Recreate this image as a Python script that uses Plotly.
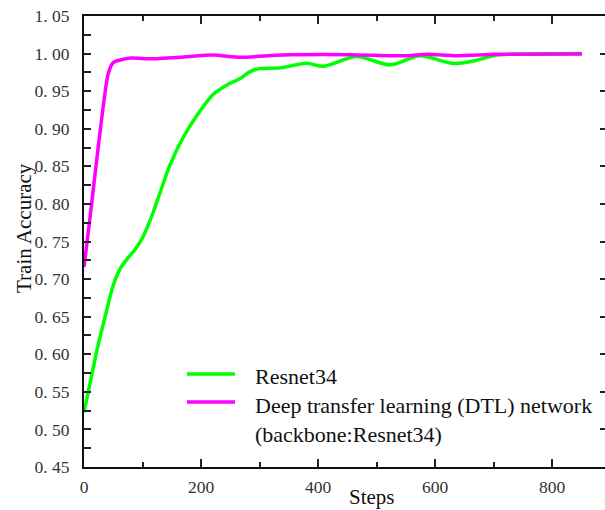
import plotly.graph_objects as go

# ---- data ----
steps_resnet = [0, 10, 22, 39, 50, 62, 75, 87, 100, 112, 126, 147, 170, 195, 221, 244, 267, 284, 300, 335, 381, 409, 466, 523, 574, 630, 665, 706, 760, 851]
acc_resnet = [0.523, 0.56, 0.605, 0.659, 0.692, 0.714, 0.728, 0.739, 0.755, 0.776, 0.806, 0.852, 0.889, 0.920, 0.946, 0.958, 0.967, 0.976, 0.980, 0.981, 0.987, 0.983, 0.996, 0.985, 0.997, 0.987, 0.990, 0.998, 0.9995, 1.0]

steps_dtl = [0, 10, 27, 41, 50, 79, 113, 164, 221, 267, 340, 455, 552, 586, 637, 706, 851]
acc_dtl = [0.716, 0.78, 0.893, 0.972, 0.988, 0.994, 0.993, 0.995, 0.998, 0.995, 0.998, 0.9985, 0.997, 0.999, 0.997, 0.999, 0.9994]

y_ticks = [0.45, 0.50, 0.55, 0.60, 0.65, 0.70, 0.75, 0.80, 0.85, 0.90, 0.95, 1.00, 1.05]
y_ticktext = ["0. 45", "0. 50", "0. 55", "0. 60", "0. 65", "0. 70", "0. 75", "0. 80", "0. 85", "0. 90", "0. 95", "1. 00", "1. 05"]
x_ticks = [0, 200, 400, 600, 800]
x_ticktext = ["0", "200", "400", "600", "800"]

series_names = ["Resnet34", "Deep transfer learning (DTL) network", "(backbone:Resnet34)"]
colors = ["#00ff00", "#ff00ff"]

W, H = 605, 510
ML, MR, MT, MB = 84, 0, 16, 43
PW, PH = W - ML - MR, H - MT - MB
X_MAX = PW / 117 * 200

def px(x):
    return (x - ML) / PW

def py(y):
    return (H - MB - y) / PH

FONT = "Liberation Serif"

fig = go.Figure()
fig.add_trace(go.Scatter(x=steps_resnet, y=acc_resnet, mode="lines", name=series_names[0],
                         line=dict(color=colors[0], width=3.5, shape="spline", smoothing=0.8),
                         showlegend=False))
fig.add_trace(go.Scatter(x=steps_dtl, y=acc_dtl, mode="lines", name=series_names[1],
                         line=dict(color=colors[1], width=3.5, shape="spline", smoothing=0.6),
                         showlegend=False))
# invisible trace to carry right-side ticks
fig.add_trace(go.Scatter(x=[None], y=[None], yaxis="y2", showlegend=False, hoverinfo="skip"))

fig.update_layout(
    width=W, height=H,
    margin=dict(l=ML, r=MR, t=MT, b=MB),
    paper_bgcolor="white", plot_bgcolor="white",
    font=dict(family=FONT, color="#222222", size=17),
    xaxis=dict(range=[0, X_MAX], tickvals=x_ticks, ticktext=x_ticktext,
               ticks="inside", ticklen=8, tickwidth=1.5, tickcolor="#222",
               minor=dict(dtick=100, tick0=0, ticks="inside", ticklen=5, tickwidth=1.5, tickcolor="#222"),
               showline=True, linecolor="#111", linewidth=2, mirror="ticks",
               showgrid=False, zeroline=False, ticklabelstandoff=3,
               tickfont=dict(family=FONT, size=17.5, color="#333")),
    yaxis=dict(range=[0.45, 1.05], tickvals=y_ticks, ticktext=y_ticktext,
               ticks="inside", ticklen=7, tickwidth=1.5, tickcolor="#222",
               minor=dict(dtick=0.025, tick0=0.45, ticks="inside", ticklen=7, tickwidth=1.5, tickcolor="#222"),
               showline=True, linecolor="#111", linewidth=2, mirror=False,
               showgrid=False, zeroline=False, ticklabelstandoff=9,
               tickfont=dict(family=FONT, size=17.5, color="#333")),
    yaxis2=dict(range=[0.45, 1.05], overlaying="y", side="right", anchor="x",
                tickvals=y_ticks, showticklabels=False,
                ticks="inside", ticklen=5, tickwidth=1.5, tickcolor="#222",
                showline=False, showgrid=False, zeroline=False),
)

# axis titles
fig.add_annotation(text="Steps", xref="paper", yref="paper", x=px(372), y=py(497),
                   xanchor="center", yanchor="middle", showarrow=False,
                   font=dict(family=FONT, size=21, color="#111"))
fig.add_annotation(text="Train Accuracy", xref="paper", yref="paper", x=px(24), y=py(228),
                   xanchor="center", yanchor="middle", showarrow=False, textangle=-90,
                   font=dict(family=FONT, size=21, color="#111"))

# legend (manual)
for i, (ly, c) in enumerate([(374, colors[0]), (402, colors[1])]):
    fig.add_shape(type="line", xref="paper", yref="paper",
                  x0=px(187), x1=px(235), y0=py(ly), y1=py(ly),
                  line=dict(color=c, width=3.5))
for txt, ty in zip(series_names, [376, 405, 434]):
    fig.add_annotation(text=txt, xref="paper", yref="paper", x=px(253), y=py(ty),
                       xanchor="left", yanchor="middle", showarrow=False,
                       font=dict(family=FONT, size=22, color="#111"))

fig.write_html("out.html")
